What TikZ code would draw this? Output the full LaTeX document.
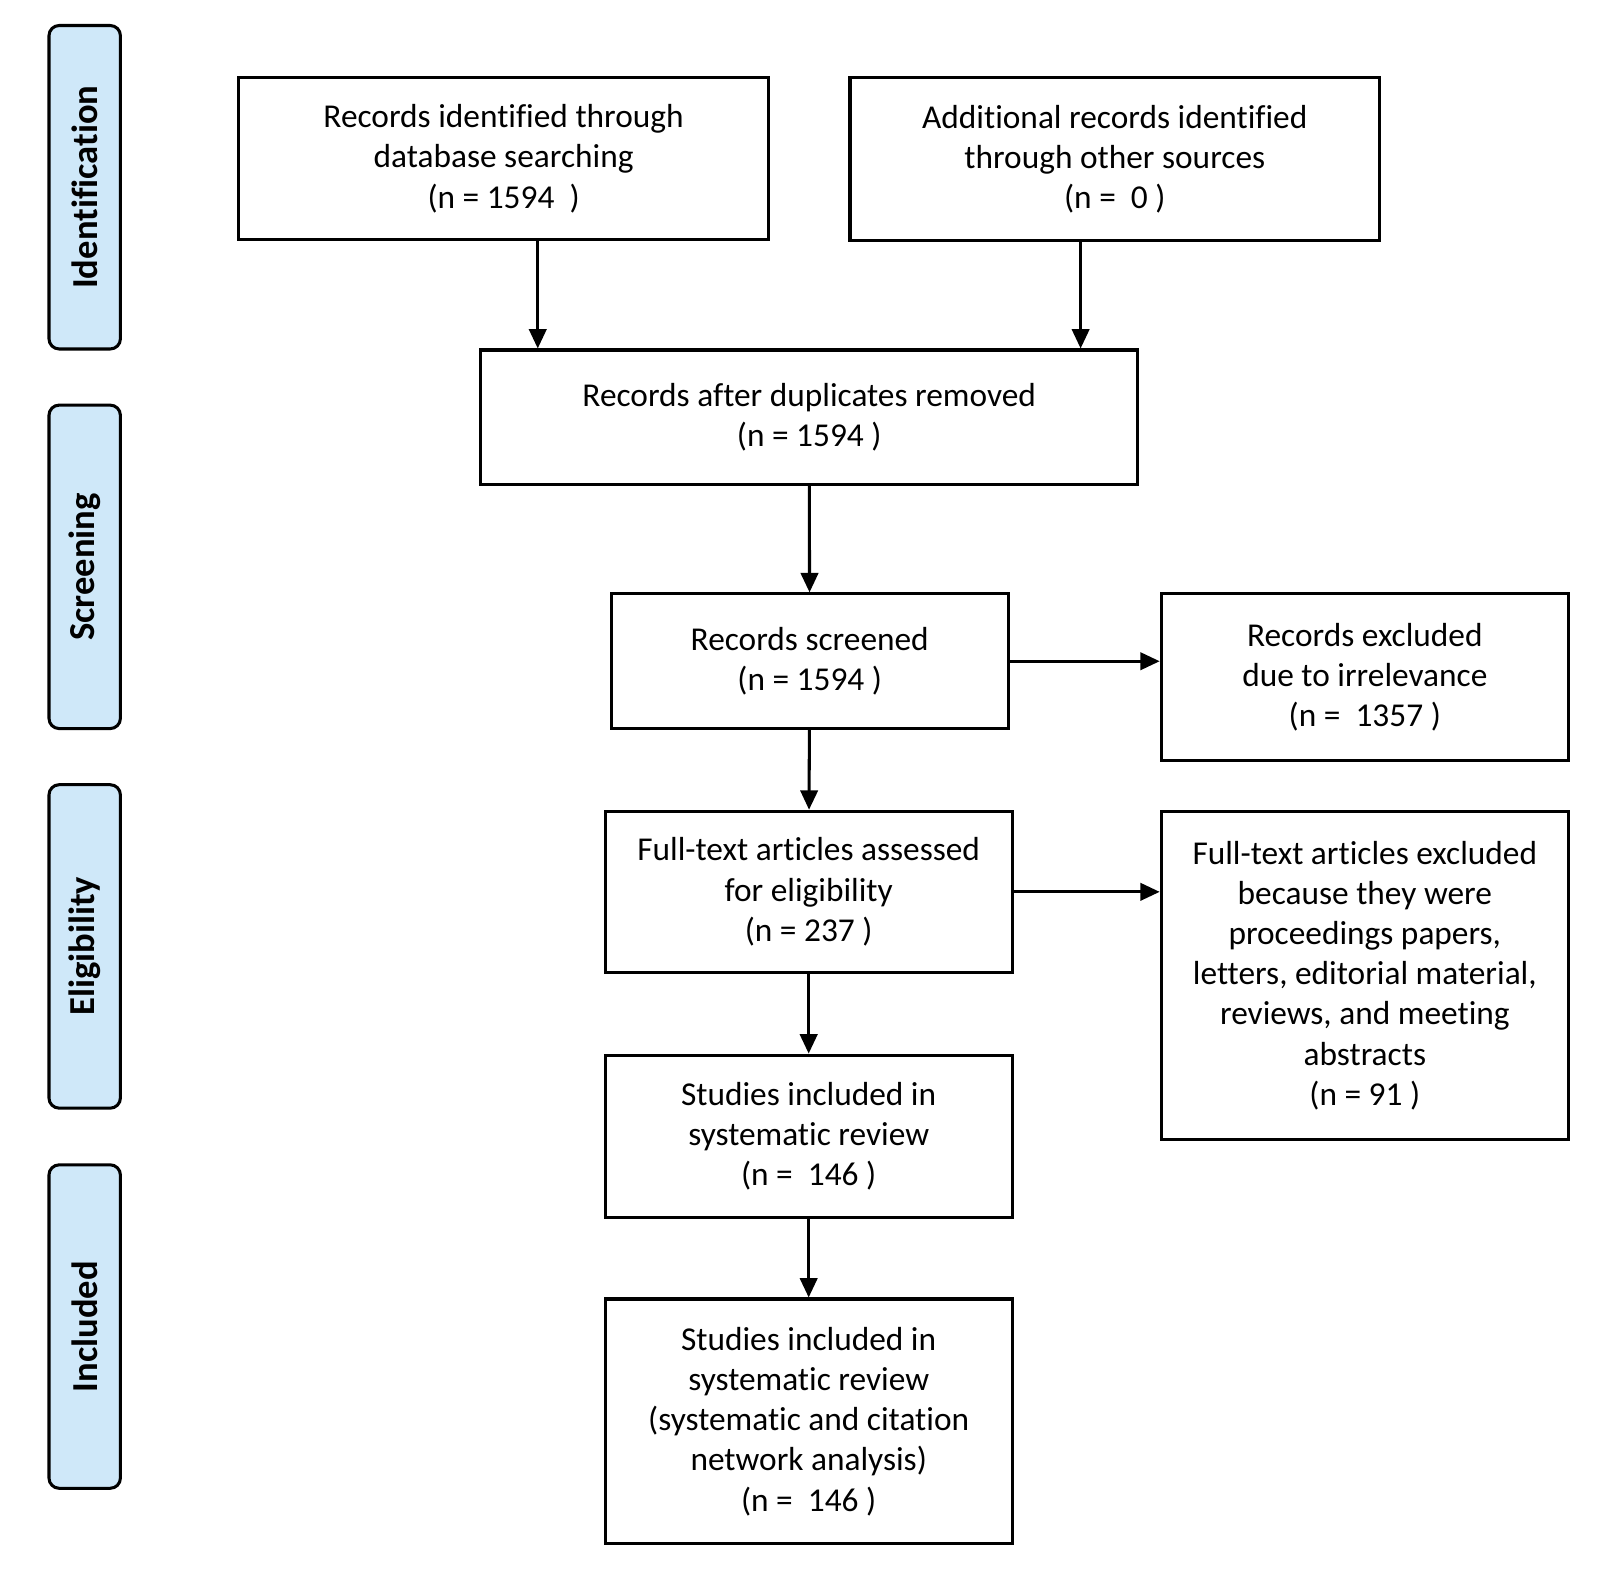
\documentclass[tikz,border=0pt]{standalone}
\usepackage{fontspec}
\setmainfont{Carlito}[Ligatures=CommonOff]
\usetikzlibrary{arrows.meta,positioning}
\definecolor{phaseblue}{HTML}{CFE8F9}
\begin{document}
\begin{tikzpicture}[font=\fontsize{9.3}{11.2}\selectfont,
                    box/.style={draw,line width=0.85pt,align=center,inner sep=0pt},
                    phase/.style={draw,line width=0.85pt,fill=phaseblue,rounded corners=1mm,
                                  minimum width=0.70cm,minimum height=3.17cm,inner sep=0pt},
                    arr/.style={-{Triangle[length=1.9mm,width=1.7mm]},line width=0.85pt}]
        \path[use as bounding box] (0,0) rectangle (15.68,-15.47);
        % phases on the left
        \node[phase] (idf) at (0.83,-1.835) {};
        \node[phase] (scr) at (0.83,-5.555) {};
        \node[phase] (elg) at (0.83,-9.275) {};
        \node[phase] (inc) at (0.83,-13.0) {};
        \foreach \p/\t in {idf/Identification,scr/Screening,elg/Eligibility,inc/Included}
          \node[rotate=90,font=\fontsize{10.2}{12}\selectfont\bfseries] at (\p) {\t};
        % flow boxes
        \node[box,minimum width=5.19cm,minimum height=1.59cm] (db) at (4.935,-1.555)
          {Records identified through\\database searching\\(n = 1594~ )};
        \node[box,minimum width=5.19cm,minimum height=1.60cm] (other) at (10.925,-1.56)
          {Additional records identified\\through other sources\\(n =~ 0 )};
        \node[box,minimum width=6.44cm,minimum height=1.32cm] (dup) at (7.93,-4.09)
          {Records after duplicates removed\\(n = 1594 )};
        \node[box,minimum width=3.89cm,minimum height=1.32cm] (screen) at (7.935,-6.48)
          {Records screened\\(n = 1594 )};
        \node[box,minimum width=3.99cm,minimum height=1.63cm] (irrel) at (13.375,-6.635)
          {Records excluded\\due to irrelevance\\(n =~ 1357 )};
        \node[box,minimum width=3.99cm,minimum height=1.58cm] (full) at (7.925,-8.74)
          {Full-text articles assessed\\for eligibility\\(n = 237 )};
        \node[box,minimum width=3.99cm,minimum height=3.22cm] (fullex) at (13.375,-9.56)
          {Full-text articles excluded\\because they were\\proceedings papers,\\letters, editorial material,\\reviews, and meeting\\abstracts\\(n = 91 )};
        \node[box,minimum width=3.99cm,minimum height=1.59cm] (sysrev) at (7.925,-11.135)
          {Studies included in\\systematic review\\(n =~ 146 )};
        \node[box,minimum width=3.99cm,minimum height=2.40cm] (final) at (7.925,-13.93)
          {Studies included in\\systematic review\\(systematic and citation\\network analysis)\\(n =~ 146 )};
        % connectors
        \draw[arr] ([xshift=3.35mm]db.south) -- ([xshift=3.35mm]db.south |- dup.north);
        \draw[arr] ([xshift=-3.35mm]other.south) -- ([xshift=-3.35mm]other.south |- dup.north);
        \draw[arr] (dup) -- (screen);
        \draw[arr] (screen) -- (full);
        \draw[arr] (full) -- (sysrev);
        \draw[arr] (sysrev) -- (final);
        \draw[arr] (screen.east) -- (screen.east -| irrel.west);
        \draw[arr] (full.east) -- (full.east -| fullex.west);
\end{tikzpicture}
\end{document}
